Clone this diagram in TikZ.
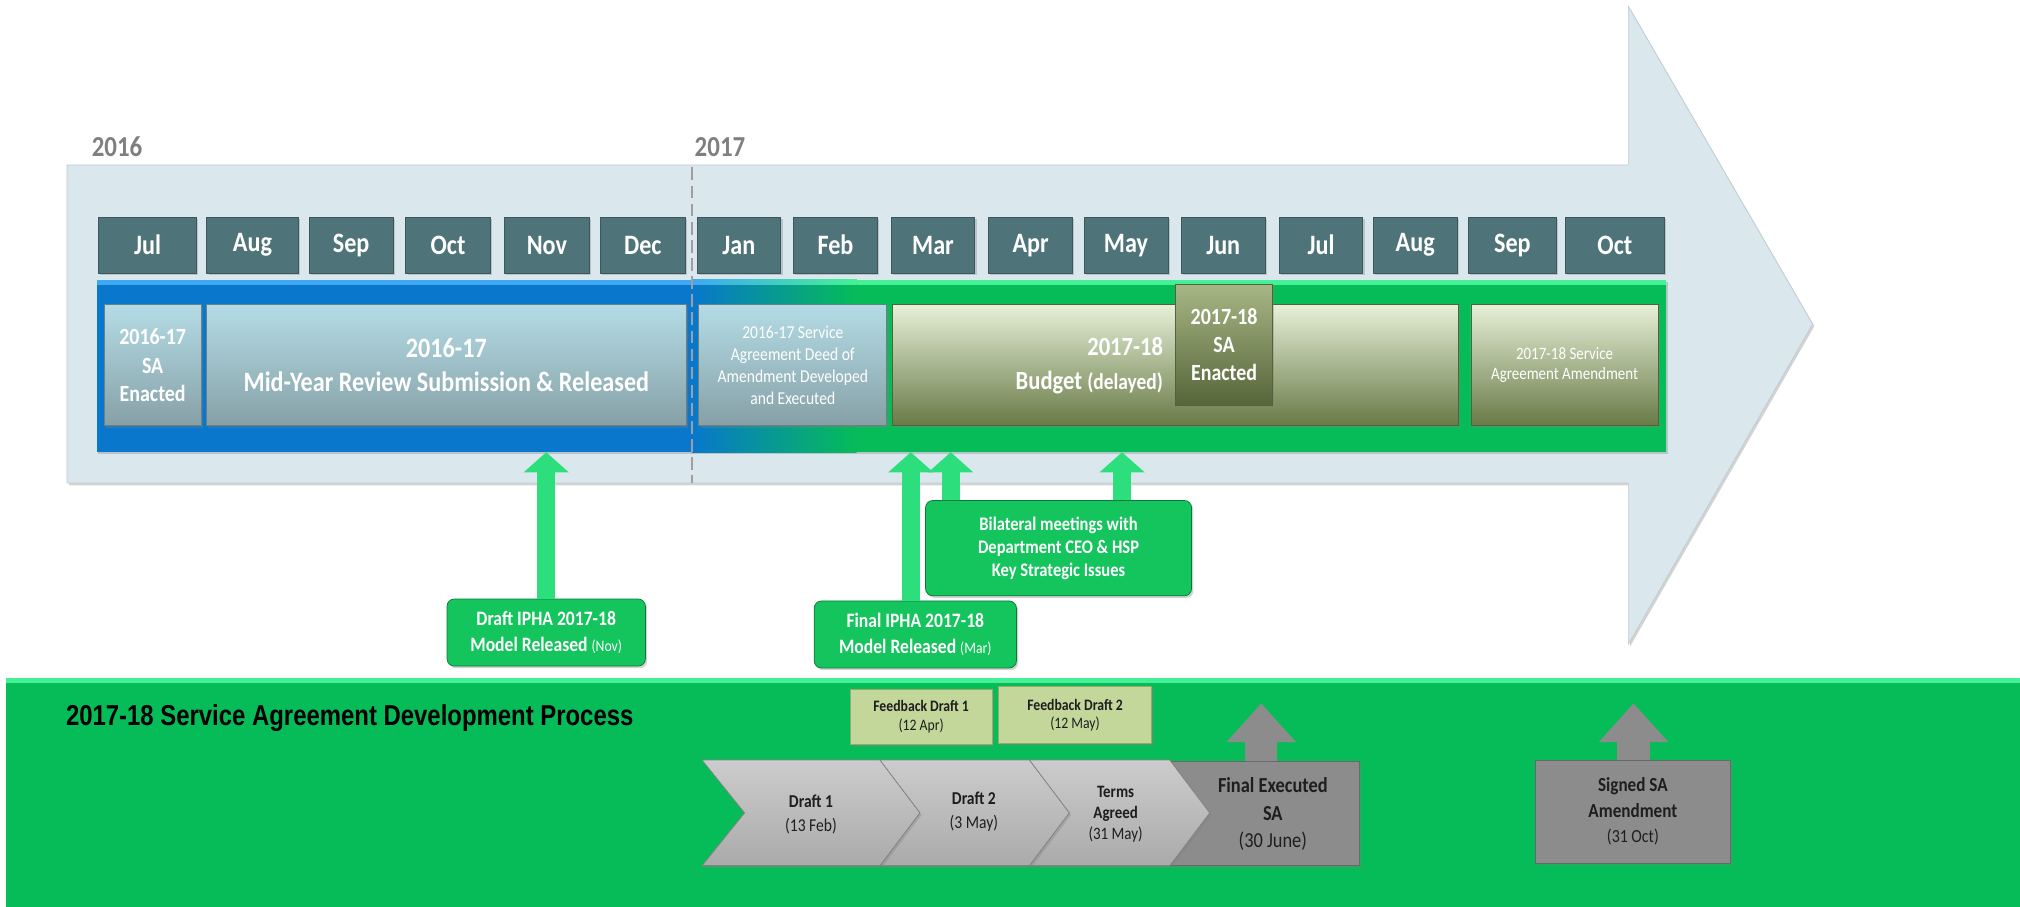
\documentclass[tikz,border=0pt]{standalone}
\usepackage{fontspec}
\setmainfont[FakeStretch=0.86]{Carlito}
\newfontfamily\titlefont[FakeStretch=0.83]{Liberation Sans}
\usepackage{tikz}
\usetikzlibrary{arrows.meta,shadows,backgrounds,positioning}

\definecolor{arrowbg}{RGB}{218,232,238}
\definecolor{arrowedge}{RGB}{190,205,212}
\definecolor{monthfill}{RGB}{78,116,121}
\definecolor{monthedge}{RGB}{58,88,93}
\definecolor{bandblue}{RGB}{8,119,204}
\definecolor{bluelight}{RGB}{62,168,242}
\definecolor{bandgreen}{RGB}{6,188,88}
\definecolor{bandlight}{RGB}{70,240,150}
\definecolor{tealtop}{RGB}{180,220,230}
\definecolor{tealbot}{RGB}{134,160,166}
\definecolor{olivetop}{RGB}{230,240,216}
\definecolor{olivebot}{RGB}{104,122,70}
\definecolor{dolivetop}{RGB}{166,182,132}
\definecolor{dolivebot}{RGB}{86,102,58}
\definecolor{callgreen}{RGB}{20,196,92}
\definecolor{calledge}{RGB}{10,120,58}
\definecolor{arrowgreen}{RGB}{44,222,124}
\definecolor{fbfill}{RGB}{196,215,155}
\definecolor{fbedge}{RGB}{150,170,105}
\definecolor{chevtop}{RGB}{204,204,204}
\definecolor{chevbot}{RGB}{170,170,170}
\definecolor{darkgrey}{RGB}{140,140,140}
\definecolor{yeargrey}{RGB}{127,127,127}
\definecolor{textdark}{RGB}{30,30,30}

\begin{document}
\begin{tikzpicture}[x=0.025cm, y=-0.025cm,
  every node/.style={inner sep=0pt, align=center},
  shadowed/.style={drop shadow={shadow xshift=1pt, shadow yshift=-1.2pt, opacity=0.35}},
  yearlabel/.style={anchor=base west, text=yeargrey, font=\bfseries\fontsize{16}{19}\selectfont},
  monthbox/.style={rectangle, shadowed, fill=monthfill, draw=monthedge, text=white,
    minimum height=1.09cm, font=\bfseries\fontsize{15.5}{18}\selectfont},
  tealbox/.style={rectangle, shadowed, top color=tealtop, bottom color=tealbot,
    draw=tealbot!80!black, text=white, minimum height=2.35cm},
  olivebox/.style={rectangle, shadowed, top color=olivetop, bottom color=olivebot,
    draw=olivebot!80!black, text=white, minimum height=2.35cm},
  callout/.style={rectangle, rounded corners=4pt, shadowed, fill=callgreen, draw=calledge, text=white},
  uparrow/.style={draw=arrowgreen, line width=0.35cm, -{Triangle[width=0.85cm, length=0.39cm]}},
  fbbox/.style={rectangle, shadowed, fill=fbfill, draw=fbedge, text=textdark},
  greybox/.style={rectangle, shadowed, fill=darkgrey, draw=darkgrey!75!black, text=textdark},
  greyarrow/.style={draw=darkgrey, line width=0.625cm, -{Triangle[width=1.3cm, length=0.75cm]}},
  chev/.style={top color=chevtop, bottom color=chevbot, draw=chevbot!80!black, shadowed},
  chevtext/.style={text=textdark, font=\fontsize{10}{13}\selectfont}]

\useasboundingbox (0,0) rectangle (1568,704);

% timeline arrow
\fill[arrowbg, draw=arrowedge, shadowed] (52,128) -- (1264,128) -- (1264,5) -- (1407,251.5)
  -- (1264,500) -- (1264,375) -- (52,375) -- cycle;

\node[yearlabel] (y16) at (71,121.5) {2016};
\node[yearlabel] (y17) at (539,121.5) {2017};

\foreach \x/\w/\m [count=\i] in {114.5/76/Jul, 196/71/Aug, 272.6/65.5/Sep, 347.8/65.6/Oct,
    424.5/65.6/Nov, 499/65.6/Dec, 573.5/65/Jan, 648.5/65/Feb, 724.2/65/Mar, 800/65.3/Apr,
    874/65.2/May, 949.5/65/Jun, 1025.4/64.8/Jul, 1098.5/65/Aug, 1174/68/Sep, 1253.5/77/Oct}
  \node[monthbox, minimum width=\w*0.025cm] (m\i) at (\x,190.3) {\m};

% financial year band
\fill[bandgreen, shadowed] (75,217) rectangle (1293,351);
\fill[bandblue] (75,217) rectangle (537,351);
\shade[left color=bandblue, right color=bandgreen] (537,217) rectangle (665,351);
\fill[bluelight] (75,217) rectangle (537,221);
\shade[left color=bluelight, right color=bandlight] (537,217) rectangle (665,221);
\fill[bandlight] (665,217) rectangle (1293,221);
\coordinate (bandbot) at (0,351);

\node[tealbox, minimum width=75*0.025cm, font=\bfseries\fontsize{12.8}{15.5}\selectfont]
  (sa16) at (118.5,283.5) {2016-17\\SA\\Enacted};
\node[tealbox, minimum width=373*0.025cm, font=\bfseries\fontsize{15.5}{18.5}\selectfont]
  (midyear) at (346.5,283.5) {2016-17\\Mid-Year Review Submission \& Released};
\node[tealbox, minimum width=146*0.025cm, font=\fontsize{10}{12.2}\selectfont]
  (deed) at (615.4,283.5) {2016-17 Service\\Agreement Deed of\\Amendment Developed\\and Executed};
\node[olivebox, minimum width=439*0.025cm] (budget) at (912.5,283.5) {};
\node[anchor=east, align=right, text=white, font=\bfseries\fontsize{14.5}{18.5}\selectfont]
  (budgettext) at (903,284) {2017-18\\Budget {\fontsize{12.5}{18.5}\selectfont(delayed)}};
\node[olivebox, top color=dolivetop, bottom color=dolivebot, minimum width=75*0.025cm,
  font=\bfseries\fontsize{12.8}{15.5}\selectfont] (sa17) at (950.2,267.5) {2017-18\\SA\\Enacted};
\node[olivebox, minimum width=145.5*0.025cm, font=\fontsize{9.6}{11}\selectfont]
  (amend) at (1214.5,283.5) {2017-18 Service\\Agreement Amendment};

\draw[yeargrey!75, line width=1.3pt, dash pattern=on 7pt off 3pt] (537,130) -- (537,375);

% model releases and meetings
\node[callout, minimum width=154*0.025cm, minimum height=52*0.025cm,
  font=\bfseries\fontsize{11.3}{14.2}\selectfont] (draftipha) at (424,491)
  {Draft IPHA 2017-18\\Model Released {\mdseries\fontsize{8.8}{14.2}\selectfont(Nov)}};
\node[callout, minimum width=157*0.025cm, minimum height=52*0.025cm,
  font=\bfseries\fontsize{11.3}{14.2}\selectfont] (finalipha) at (710.5,492.5)
  {Final IPHA 2017-18\\Model Released {\mdseries\fontsize{8.8}{14.2}\selectfont(Mar)}};
\node[callout, minimum width=206.5*0.025cm, minimum height=74*0.025cm,
  font=\bfseries\fontsize{10.6}{12.8}\selectfont] (bilateral) at (821.7,425.5)
  {Bilateral meetings with\\Department CEO \& HSP\\Key Strategic Issues};

\coordinate (fi) at (707,351);
\coordinate (bl1) at (738,351);
\coordinate (bl2) at (871,351);
\draw[uparrow] (draftipha.north) -- (draftipha.north |- bandbot);
\draw[uparrow] (finalipha.north -| fi) -- (fi);
\draw[uparrow] (bilateral.north -| bl1) -- (bl1);
\draw[uparrow] (bilateral.north -| bl2) -- (bl2);

% development process
\fill[bandgreen, shadowed] (5,526) rectangle (1568,704);
\fill[bandlight] (5,526) rectangle (1568,530);
\node[anchor=base west, font=\titlefont\bfseries\fontsize{15.9}{18}\selectfont]
  (ptitle) at (51,563) {2017-18 Service Agreement Development Process};

\node[fbbox, minimum width=110*0.025cm, minimum height=43*0.025cm, font=\fontsize{8.8}{10.2}\selectfont]
  (fb1) at (715,556.5) {\textbf{Feedback Draft 1}\\(12 Apr)};
\node[fbbox, minimum width=119*0.025cm, minimum height=44*0.025cm, font=\fontsize{8.8}{10.2}\selectfont]
  (fb2) at (834.5,555) {\textbf{Feedback Draft 2}\\(12 May)};

\node[greybox, minimum width=147*0.025cm, minimum height=81*0.025cm] (fsa) at (981.5,631.5) {};
\fill[chev] (799,590) -- (908,590) -- (939,631) -- (908,672) -- (799,672) -- (830,631) -- cycle;
\fill[chev] (683,590) -- (799,590) -- (830,631) -- (799,672) -- (683,672) -- (714,631) -- cycle;
\fill[chev] (545,590) -- (683,590) -- (714,631) -- (683,672) -- (545,672) -- (578,631) -- cycle;

\node[chevtext] (d1) at (629.5,632) {\textbf{Draft 1}\\(13 Feb)};
\node[chevtext] (d2) at (756,630) {\textbf{Draft 2}\\(3 May)};
\node[chevtext, font=\fontsize{9.6}{11.6}\selectfont] (terms) at (866,632)
  {\textbf{Terms}\\\textbf{Agreed}\\(31 May)};
\node[text=textdark, font=\fontsize{11.8}{15.2}\selectfont] (fsatext) at (988,632)
  {\textbf{Final Executed}\\\textbf{SA}\\(30 June)};

\node[greybox, minimum width=151*0.025cm, minimum height=80*0.025cm, font=\fontsize{11}{14}\selectfont]
  (signed) at (1267.5,630) {\textbf{Signed SA}\\\textbf{Amendment}\\{\fontsize{10.2}{14}\selectfont(31 Oct)}};

\coordinate (fsatip) at (979,546);
\coordinate (signedtip) at (1268,546);
\draw[greyarrow] (fsa.north -| fsatip) -- (fsatip);
\draw[greyarrow] (signed.north -| signedtip) -- (signedtip);

\end{tikzpicture}
\end{document}
